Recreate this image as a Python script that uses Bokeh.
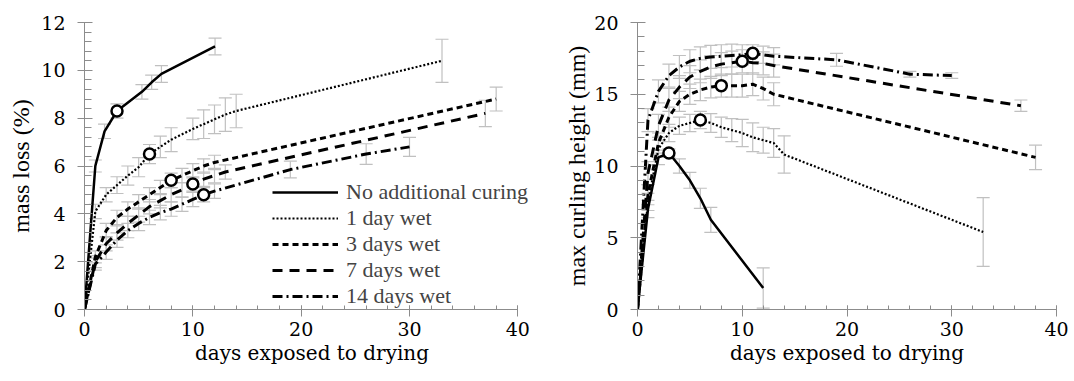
from bokeh.plotting import figure
from bokeh.models import (Range1d, SingleIntervalTicker, Whisker, TeeHead,
                          ColumnDataSource, Legend, LegendItem)
from bokeh.layouts import row
from bokeh.embed import file_html
from bokeh.resources import INLINE

# ---------------- data ----------------
series_names = ["No additional curing", "1 day wet", "3 days wet", "7 days wet", "14 days wet"]
marked_days = [3, 6, 8, 10, 11]

# mass loss (%)
ml_none_days = [0, 1.0, 1.85, 3, 5.3, 6.2, 7.1, 12.05]
ml_none_vals = [0, 6.0, 7.45, 8.3, 9.1, 9.5, 9.85, 11.0]
ml_none_err = [0, 0.25, 0.3, 0.3, 0.3, 0.3, 0.35, 0.35]

ml_1d_days = [0, 1, 2, 3, 4, 5, 6, 7, 8, 10, 11, 12, 13, 14, 33]
ml_1d_vals = [0, 4.1, 4.8, 5.2, 5.6, 5.95, 6.5, 6.8, 7.1, 7.55, 7.75, 7.95, 8.15, 8.3, 10.4]
ml_1d_err = [0, 0.3, 0.3, 0.35, 0.4, 0.4, 0.4, 0.45, 0.5, 0.45, 0.6, 0.6, 0.7, 0.7, 0.9]

ml_3d_days = [0, 1, 2, 3, 4, 5, 6, 7, 8, 9, 10, 11, 12, 38]
ml_3d_vals = [0, 2.2, 3.3, 3.85, 4.2, 4.5, 4.8, 5.1, 5.4, 5.6, 5.8, 6.0, 6.15, 8.8]
ml_3d_err = [0, 0.25, 0.3, 0.3, 0.3, 0.3, 0.3, 0.3, 0.3, 0.3, 0.3, 0.3, 0.3, 0.5]

ml_7d_days = [0, 1, 2, 3, 4, 5, 6, 7, 8, 9, 10, 11, 12, 13, 37]
ml_7d_vals = [0, 2.0, 2.75, 3.2, 3.6, 3.95, 4.3, 4.55, 4.8, 5.0, 5.25, 5.45, 5.6, 5.75, 8.2]
ml_7d_err = [0, 0.25, 0.3, 0.3, 0.3, 0.3, 0.3, 0.3, 0.3, 0.3, 0.3, 0.3, 0.3, 0.3, 0.55]

ml_14d_days = [0, 1, 2, 3, 4, 5, 6, 7, 8, 9, 10, 11, 12, 19, 26, 30]
ml_14d_vals = [0, 1.9, 2.4, 2.9, 3.3, 3.6, 3.85, 4.05, 4.2, 4.4, 4.6, 4.8, 4.95, 5.85, 6.5, 6.8]
ml_14d_err = [0, 0.25, 0.3, 0.3, 0.3, 0.3, 0.3, 0.3, 0.3, 0.3, 0.3, 0.3, 0.3, 0.35, 0.43, 0.4]

# max curling height (mm)
ch_none_days = [0, 1, 2, 3, 4, 5, 6, 7, 12]
ch_none_vals = [0, 7.0, 10.6, 10.9, 10.0, 9.0, 7.75, 6.25, 1.5]
ch_none_err = [0, 0.6, 0.5, 0.3, 0.5, 0.55, 0.7, 0.87, 1.4]

ch_1d_days = [0, 1, 2, 3, 4, 5, 6, 7, 8, 9, 10, 11, 12, 13, 14, 33]
ch_1d_vals = [0, 7.5, 11.2, 12.3, 12.8, 13.0, 13.2, 13.0, 12.7, 12.5, 12.3, 12.0, 11.8, 11.6, 10.8, 5.4]
ch_1d_err = [0, 0.6, 0.6, 0.6, 0.6, 0.6, 0.6, 0.65, 0.7, 0.8, 0.95, 1.0, 0.9, 1.0, 1.3, 2.4]

ch_3d_days = [0, 1, 2, 3, 4, 5, 6, 7, 8, 9, 10, 11, 12, 13, 38]
ch_3d_vals = [0, 8.0, 11.6, 13.4, 14.5, 15.0, 15.3, 15.5, 15.6, 15.6, 15.6, 15.7, 15.4, 15.0, 10.6]
ch_3d_err = [0, 0.7, 0.7, 0.7, 0.7, 0.7, 0.75, 0.75, 0.8, 0.8, 0.8, 0.8, 0.8, 0.8, 0.85]

ch_7d_days = [0, 1, 2, 3, 4, 5, 6, 7, 8, 9, 10, 11, 12, 13, 36.6]
ch_7d_vals = [0, 9.5, 12.8, 14.6, 15.5, 16.2, 16.6, 16.9, 17.1, 17.2, 17.3, 17.2, 17.15, 17.0, 14.2]
ch_7d_err = [0, 0.8, 0.8, 0.8, 0.8, 0.8, 0.8, 0.8, 0.8, 0.8, 0.8, 0.8, 0.8, 0.8, 0.4]

ch_14d_days = [0, 1, 2, 3, 4, 5, 6, 7, 8, 9, 10, 11, 12, 13, 19, 26, 30]
ch_14d_vals = [0, 13.2, 15.2, 16.3, 16.9, 17.3, 17.5, 17.6, 17.65, 17.7, 17.75, 17.85, 17.75, 17.65, 17.4, 16.4, 16.3]
ch_14d_err = [0, 0.8, 0.8, 0.8, 0.8, 0.8, 0.8, 0.8, 0.8, 0.8, 0.7, 0.6, 0.6, 0.6, 0.45, 0.2, 0.2]

x_label = "days exposed to drying"
ml_label = "mass loss (%)"
ch_label = "max curling height (mm)"

mass_loss = [(ml_none_days, ml_none_vals, ml_none_err),
             (ml_1d_days, ml_1d_vals, ml_1d_err),
             (ml_3d_days, ml_3d_vals, ml_3d_err),
             (ml_7d_days, ml_7d_vals, ml_7d_err),
             (ml_14d_days, ml_14d_vals, ml_14d_err)]
curling = [(ch_none_days, ch_none_vals, ch_none_err),
           (ch_1d_days, ch_1d_vals, ch_1d_err),
           (ch_3d_days, ch_3d_vals, ch_3d_err),
           (ch_7d_days, ch_7d_vals, ch_7d_err),
           (ch_14d_days, ch_14d_vals, ch_14d_err)]

# ---------------- styles ----------------
FONT = "'Liberation Serif', 'Times New Roman', serif"   # legend + vertical titles
AXFONT = "DejaVu Serif"                                  # horizontal axis texts
dashes = ["solid", "2 2", "6 4", "10 7", "10 4 2 4"]
widths = [2.5, 2.2, 3, 3, 3]
AXIS_GREY = "#8c8c8c"
ERR_GREY = "#c0c0c0"


def make_fig(width, border_left, border_right, border_bottom, xmax, ymax, yint, ylabel, ylabel_standoff):
    p = figure(width=width, height=381, output_backend="svg", toolbar_location=None,
               x_range=Range1d(0, xmax), y_range=Range1d(0, ymax),
               min_border_left=border_left, min_border_right=border_right,
               min_border_top=22, min_border_bottom=border_bottom)
    p.outline_line_color = None
    p.grid.visible = False
    p.background_fill_color = "white"
    p.border_fill_color = "white"
    p.xaxis.ticker = SingleIntervalTicker(interval=10, num_minor_ticks=5)
    p.yaxis.ticker = SingleIntervalTicker(interval=yint, num_minor_ticks=5)
    p.xaxis.bounds = (0, 40)
    for ax in (p.xaxis[0], p.yaxis[0]):
        ax.axis_line_color = AXIS_GREY
        ax.major_tick_line_color = AXIS_GREY
        ax.minor_tick_line_color = AXIS_GREY
        ax.major_label_text_font = AXFONT
        ax.major_label_text_font_size = "19px"
        ax.major_label_text_color = "black"
        ax.axis_label_text_font_style = "normal"
        ax.axis_label_text_color = "black"
        ax.minor_tick_out = 0
    xa = p.xaxis[0]
    ya = p.yaxis[0]
    xa.axis_label_text_font = AXFONT
    xa.axis_label_text_font_size = "20px"
    ya.axis_label_text_font = FONT
    ya.axis_label_text_font_size = "24px"
    xa.major_tick_in = 4
    xa.major_tick_out = 7
    xa.minor_tick_in = 4
    xa.major_label_standoff = 5
    xa.axis_label_standoff = 2
    xa.axis_label = x_label
    ya.major_tick_in = 8
    ya.major_tick_out = 7
    ya.minor_tick_in = 7
    ya.major_label_standoff = 12
    ya.axis_label_standoff = ylabel_standoff
    ya.axis_label = ylabel
    return p


def draw(p, data):
    renderers = []
    for (days, vals, err), dash, w in zip(data, dashes, widths):
        up = [v + e for v, e in zip(vals, err) if e > 0]
        lo = [v - e for v, e in zip(vals, err) if e > 0]
        xs = [d for d, e in zip(days, err) if e > 0]
        src = ColumnDataSource(dict(x=xs, upper=up, lower=lo))
        wk = Whisker(source=src, base="x", upper="upper", lower="lower",
                     line_color=ERR_GREY, line_width=1.2,
                     upper_head=TeeHead(size=13, line_color=ERR_GREY, line_width=1.2),
                     lower_head=TeeHead(size=13, line_color=ERR_GREY, line_width=1.2))
        p.add_layout(wk)
    for (days, vals, err), dash, w in zip(data, dashes, widths):
        r = p.line(days, vals, line_color="black", line_width=w, line_dash=dash)
        renderers.append(r)
    mx, my = [], []
    for (days, vals, err), md in zip(data, marked_days):
        mx.append(md)
        my.append(vals[days.index(md)])
    p.scatter(mx, my, marker="circle", size=11, line_color="black", line_width=2.5,
              fill_color="white")
    return renderers


# left: frame 84..539 for x 0..42 (axis drawn only to 40)
p1 = make_fig(560, 84, 21, 69, 42, 12, 2, ml_label, 4)
r1 = draw(p1, mass_loss)
legend = Legend(items=[LegendItem(label=n, renderers=[r]) for n, r in zip(series_names, r1)],
                location=(188, 0), glyph_width=66, glyph_height=20, label_height=20,
                spacing=0, padding=0, margin=0, label_standoff=8,
                label_text_font=FONT, label_text_font_size="22px",
                background_fill_alpha=0, border_line_alpha=0)
p1.add_layout(legend)

p2 = make_fig(514, 77, 18, 72, 40, 20, 5, ch_label, 1)
draw(p2, curling)

layout = row(p1, p2)
open("out.html", "w").write(file_html(layout, INLINE))
